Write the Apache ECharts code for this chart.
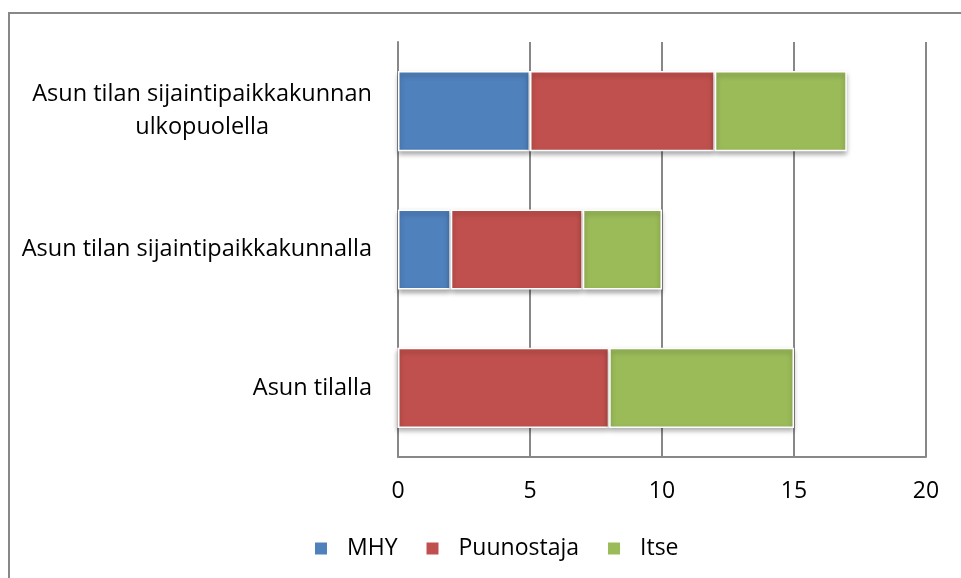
<!DOCTYPE html>
<html>
<head>
<meta charset="utf-8">
<script src="https://cdn.jsdelivr.net/npm/echarts@6/dist/echarts.min.js"></script>
<style>
  html, body { margin:0; padding:0; background:#fff; }
  #frame { position:absolute; left:8px; top:12px; width:970px; height:600px; border-left:2px solid #888; border-top:2px solid #888; }
  #chart { position:absolute; left:0; top:0; width:961px; height:578px; }
</style>
</head>
<body>
<div id="frame"></div>
<div id="chart"></div>
<script type="text/javascript">
  // luokat alhaalta ylos
  var categories = ['Asun tilalla', 'Asun tilan sijaintipaikkakunnalla', 'Asun tilan sijaintipaikkakunnan\nulkopuolella'];
  var mhy = [0, 2, 5];
  var puunostaja = [8, 5, 7];
  var itse = [7, 3, 5];
  var xTicks = [0, 5, 10, 15, 20];

  var font = '"Open Sans", sans-serif';
  function bar(name, data, color) {
    return {
      name: name,
      type: 'bar',
      stack: 'yht',
      data: data,
      barCategoryGap: '42%',
      itemStyle: {
        color: color,
        borderColor: '#fff',
        borderWidth: 1.5,
        shadowColor: 'rgba(0,0,0,0.35)',
        shadowBlur: 5,
        shadowOffsetY: 3
      }
    };
  }

  var myChart = echarts.init(document.getElementById('chart'));
  myChart.setOption({
    animation: false,
    textStyle: { fontFamily: font },
    grid: { left: 398, right: 35, top: 42, bottom: 121, containLabel: false },
    legend: {
      top: 532,
      left: 308,
      itemWidth: 14,
      itemHeight: 14,
      itemGap: 27,
      icon: 'rect',
      textStyle: { fontSize: 23, color: '#000', fontFamily: font, padding: [0, 0, 0, 14] },
      data: ['MHY', 'Puunostaja', 'Itse']
    },
    xAxis: {
      type: 'value',
      min: 0,
      max: 20,
      interval: 5,
      axisLine: { show: true, lineStyle: { color: '#888', width: 2 } },
      axisTick: { show: false },
      splitLine: { show: true, lineStyle: { color: '#888', width: 2 } },
      axisLabel: {
        fontSize: 23, color: '#000', margin: 23, fontFamily: font,
        formatter: function (v) { return xTicks.indexOf(v) >= 0 ? String(v) : ''; }
      }
    },
    yAxis: {
      type: 'category',
      data: categories,
      axisLine: { show: true, lineStyle: { color: '#888', width: 2 } },
      axisTick: { show: false },
      axisLabel: {
        fontSize: 23.5, color: '#000', margin: 26, align: 'right', fontFamily: font,
        formatter: function (v) {
          return v.split('\n').map(function (s) { return '{c|' + s + '}'; }).join('\n');
        },
        rich: { c: { fontSize: 23.5, color: '#000', fontFamily: font, align: 'center', lineHeight: 33 } }
      }
    },
    series: [
      bar('MHY', mhy, '#4F81BD'),
      bar('Puunostaja', puunostaja, '#C0504D'),
      bar('Itse', itse, '#9BBB59')
    ]
  });
</script>
</body>
</html>
